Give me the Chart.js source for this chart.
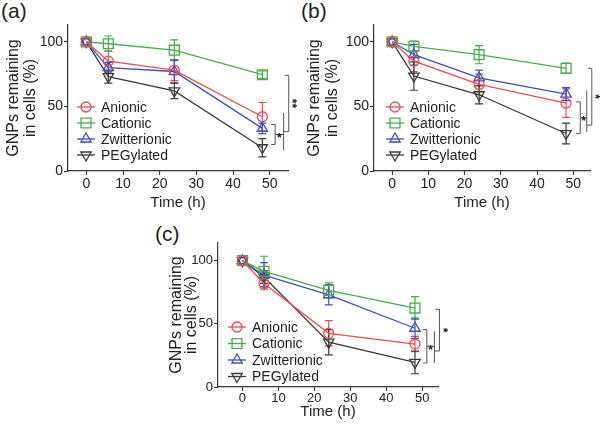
<!DOCTYPE html>
<html>
<head>
<meta charset="utf-8">
<script src="https://cdn.jsdelivr.net/npm/chart.js@4.4.1/dist/chart.umd.min.js"></script>
<style>
    body { margin: 0; background: #fff; width: 600px; height: 430px; position: relative; overflow: hidden;
           font-family: "Liberation Sans", Arial, sans-serif; }
    .panneau { position: absolute; }
    .lettre { position: absolute; font-size: 21px; line-height: 21px; color: #222; }
</style>
</head>
<body>
<div class="lettre" style="left:1px;top:0px">(a)</div>
<div class="lettre" style="left:301px;top:0px">(b)</div>
<div class="lettre" style="left:155px;top:223px">(c)</div>
<div class="panneau" style="left:0;top:0;width:300px;height:212px"><canvas id="chartA"></canvas></div>
<div class="panneau" style="left:300px;top:0;width:300px;height:212px"><canvas id="chartB"></canvas></div>
<div class="panneau" style="left:150px;top:215px;width:320px;height:215px"><canvas id="chartC"></canvas></div>

<script>
// Données
const temps = [0, 6, 24, 48];
const ticksTemps = [0, 10, 20, 30, 40, 50];
const ticksPct = [0, 50, 100];
const noms = ['Anionic', 'Cationic', 'Zwitterionic', 'PEGylated'];

// (a)
const anioniqueA = [100, 85, 78, 42];
const anioniqueErrA = [0, 8, 8, 11];
const cationiqueA = [100, 98.5, 93.5, 74.5];
const cationiqueErrA = [0, 6, 8, 3];
const zwitterA = [100, 80, 77, 33];
const zwitterErrA = [0, 4, 9, 4];
const pegA = [100, 73, 62, 18];
const pegErrA = [0, 5, 6, 7];

// (b)
const anioniqueB = [100, 85, 67, 52.5];
const anioniqueErrB = [0, 8, 8, 11];
const cationiqueB = [100, 96.5, 90, 79.5];
const cationiqueErrB = [0, 4, 7, 4];
const zwitterB = [100, 90, 72, 59.5];
const zwitterErrB = [0, 8, 6, 5];
const pegB = [100, 73.5, 59, 29];
const pegErrB = [0, 11, 7, 8];

// (c)
const anioniqueC = [100, 82, 42.5, 34];
const anioniqueErrC = [0, 5, 10, 6];
const cationiqueC = [100, 91.5, 76.5, 62.5];
const cationiqueErrC = [0, 12, 6, 9];
const zwitterC = [100, 88.5, 73, 46.5];
const zwitterErrC = [0, 10, 8, 8];
const pegC = [100, 87, 35.5, 19.5];
const pegErrC = [0, 5, 10, 9];

// Crochets de significativité : [x, yHaut, yBas]
const petitA = [51.5, 36, 20.5];
const interneA = [53.8, 45, 16];
const externeA = [55.2, 74, 30.5];
const petitB = [51.9, 53.5, 29];
const interneB = [53.7, 62.5, 30];
const externeB = [55.1, 79.5, 35.5];
const petitC = [51.3, 45.5, 19];
const interneC = [53.4, 44, 19];
const externeC = [54.8, 61.5, 28.5];

// Styles des séries
const couleurs = ['#f04b50', '#43b047', '#3c4fc6', '#3a3a3a'];
const formes = ['circle', 'rect', 'triangle', 'triangle'];
const rotations = [0, 0, 0, 180];
const rayons = [5, 7, 6, 6];
const POLICE = '"Liberation Sans", Arial, sans-serif';

// Barres d'erreur
const pluginErreurs = {
    id: 'erreurs',
    beforeDatasetsDraw(chart) {
        const ctx = chart.ctx;
        const xs = chart.scales.x, ys = chart.scales.y;
        chart.data.datasets.forEach(ds => {
            ctx.save();
            ctx.strokeStyle = ds.borderColor;
            ctx.lineWidth = 1.2;
            ds.data.forEach((v, j) => {
                const e = ds.erreurs[j];
                if (!e) return;
                const x = xs.getPixelForValue(temps[j]);
                const y1 = ys.getPixelForValue(v + e);
                const y2 = ys.getPixelForValue(v - e);
                ctx.beginPath();
                ctx.moveTo(x, y1); ctx.lineTo(x, y2);
                ctx.moveTo(x - 4, y1); ctx.lineTo(x + 4, y1);
                ctx.moveTo(x - 4, y2); ctx.lineTo(x + 4, y2);
                ctx.stroke();
            });
            ctx.restore();
        });
    }
};

function dessinerMarqueur(ctx, forme, rot, r, x, y) {
    ctx.beginPath();
    if (forme === 'circle') {
        ctx.arc(x, y, r, 0, Math.PI * 2);
    } else if (forme === 'rect') {
        const s = r * Math.SQRT1_2;
        ctx.rect(x - s, y - s, 2 * s, 2 * s);
    } else {
        let a = rot * Math.PI / 180;
        for (let k = 0; k < 3; k++) {
            const px = x + Math.sin(a) * r, py = y - Math.cos(a) * r;
            if (k === 0) ctx.moveTo(px, py); else ctx.lineTo(px, py);
            a += 2 * Math.PI / 3;
        }
        ctx.closePath();
    }
    ctx.stroke();
}

// Légende dans la zone du graphique
const pluginLegende = {
    id: 'legende',
    afterDraw(chart, args, opts) {
        const ctx = chart.ctx;
        const area = chart.chartArea;
        chart.data.datasets.forEach((ds, i) => {
            const y = area.bottom - opts.bas + i * opts.pas;
            const x = area.left + opts.gauche;
            ctx.save();
            ctx.strokeStyle = ds.borderColor;
            ctx.lineWidth = 1.3;
            ctx.beginPath();
            ctx.moveTo(x - 9, y); ctx.lineTo(x + 9, y);
            ctx.stroke();
            dessinerMarqueur(ctx, formes[i], rotations[i], rayons[i], x, y);
            ctx.fillStyle = '#222';
            ctx.font = '14px ' + POLICE;
            ctx.textBaseline = 'middle';
            ctx.fillText(ds.label, x + 15, y + 1);
            ctx.restore();
        });
    }
};

// Crochets et étoiles
const pluginCrochets = {
    id: 'crochets',
    afterDraw(chart, args, opts) {
        const ctx = chart.ctx;
        const xs = chart.scales.x, ys = chart.scales.y;
        const px = v => xs.getPixelForValue(v), py = v => ys.getPixelForValue(v);
        const p = opts.petit, n = opts.interne, e = opts.externe;
        ctx.save();
        ctx.strokeStyle = '#555';
        ctx.lineWidth = 1;
        ctx.beginPath();
        // petit crochet
        ctx.moveTo(px(p[0]) - 4, py(p[1])); ctx.lineTo(px(p[0]), py(p[1]));
        ctx.lineTo(px(p[0]), py(p[2])); ctx.lineTo(px(p[0]) - 4, py(p[2]));
        const yMil = (py(p[1]) + py(p[2])) / 2;
        ctx.moveTo(px(p[0]), yMil); ctx.lineTo(px(n[0]), yMil);
        // trait interne
        ctx.moveTo(px(n[0]), py(n[1])); ctx.lineTo(px(n[0]), py(n[2]));
        // grand crochet
        ctx.moveTo(px(e[0]) - 4, py(e[1])); ctx.lineTo(px(e[0]), py(e[1]));
        ctx.lineTo(px(e[0]), py(e[2])); ctx.lineTo(px(n[0]), py(e[2]));
        ctx.stroke();
        ctx.fillStyle = '#222';
        ctx.font = 'bold 12px ' + POLICE;
        ctx.textAlign = 'center';
        ctx.textBaseline = 'middle';
        ctx.fillText('*', (px(p[0]) + px(n[0])) / 2, yMil + 4);
        ctx.translate(px(e[0]) + 6, (py(e[1]) + py(e[2])) / 2);
        ctx.rotate(Math.PI / 2);
        ctx.fillText(opts.etoiles, 0, 3);
        ctx.restore();
    }
};

function creerGraphique(id, series, erreurs, reglages) {
    const datasets = series.map((s, i) => ({
        label: noms[i],
        data: s,
        erreurs: erreurs[i],
        borderColor: couleurs[i],
        backgroundColor: 'rgba(255,255,255,0)',
        borderWidth: 1.3,
        pointStyle: formes[i],
        pointRotation: rotations[i],
        pointRadius: rayons[i],
        pointBorderWidth: 1.3,
        pointBorderColor: couleurs[i],
        pointBackgroundColor: 'rgba(255,255,255,0)',
        tension: 0
    }));

    return new Chart(document.getElementById(id), {
        type: 'line',
        data: { labels: temps, datasets: datasets },
        plugins: [pluginErreurs, pluginLegende, pluginCrochets],
        options: {
            responsive: true,
            maintainAspectRatio: false,
            animation: false,
            events: [],
            layout: { padding: { top: reglages.haut, right: reglages.droite, left: 0, bottom: 0 } },
            plugins: {
                legend: { display: false },
                tooltip: { enabled: false },
                legende: reglages.legende,
                crochets: reglages.crochets
            },
            scales: {
                x: {
                    type: 'linear',
                    min: reglages.xMin,
                    max: reglages.xMax,
                    afterBuildTicks: sc => { sc.ticks = ticksTemps.map(v => ({ value: v })); },
                    afterFit: sc => { sc.height = reglages.hauteurX; },
                    border: { display: true, color: '#333', width: 1.2 },
                    grid: { display: true, drawOnChartArea: false, drawTicks: true, tickLength: 4, color: '#333', tickWidth: 1.2 },
                    ticks: { font: { size: reglages.policeTicks, family: POLICE }, color: '#222', padding: reglages.padTickX, maxRotation: 0 },
                    title: { display: true, text: 'Time (h)', color: '#222',
                             font: { size: 15, family: POLICE }, padding: { top: 0, bottom: reglages.padTitreX } }
                },
                y: {
                    min: 0,
                    max: reglages.yMax,
                    afterBuildTicks: sc => { sc.ticks = ticksPct.map(v => ({ value: v })); },
                    afterFit: sc => { sc.width = reglages.largeurY; },
                    border: { display: true, color: '#333', width: 1.2 },
                    grid: { display: true, drawOnChartArea: false, drawTicks: true, tickLength: 4, color: '#333', tickWidth: 1.2 },
                    ticks: { font: { size: reglages.policeTicks, family: POLICE }, color: '#222', padding: 1 },
                    title: { display: true, text: ['GNPs remaining', 'in cells (%)'], color: '#222',
                             font: { size: 16, family: POLICE, lineHeight: reglages.interligneY },
                             padding: { top: reglages.padTitreY, bottom: 0 } }
                }
            }
        }
    });
}

creerGraphique('chartA',
    [anioniqueA, cationiqueA, zwitterA, pegA],
    [anioniqueErrA, cationiqueErrA, zwitterErrA, pegErrA],
    { haut: 25, droite: 12, largeurY: 68, hauteurX: 41, xMin: -5, xMax: 55, yMax: 113,
      policeTicks: 14, padTickX: 1, padTitreX: 0, padTitreY: 5, interligneY: 1.05,
      legende: { gauche: 18, bas: 64, pas: 16 },
      crochets: { petit: petitA, interne: interneA, externe: externeA, etoiles: '**' } });

creerGraphique('chartB',
    [anioniqueB, cationiqueB, zwitterB, pegB],
    [anioniqueErrB, cationiqueErrB, zwitterErrB, pegErrB],
    { haut: 25, droite: 10, largeurY: 74, hauteurX: 41, xMin: -5, xMax: 54.6, yMax: 113,
      policeTicks: 14, padTickX: 1, padTitreX: 0, padTitreY: 5, interligneY: 1.15,
      legende: { gauche: 21, bas: 64, pas: 16 },
      crochets: { petit: petitB, interne: interneB, externe: externeB, etoiles: '*' } });

creerGraphique('chartC',
    [anioniqueC, cationiqueC, zwitterC, pegC],
    [anioniqueErrC, cationiqueErrC, zwitterErrC, pegErrC],
    { haut: 28, droite: 32, largeurY: 68, hauteurX: 43, xMin: -6.8, xMax: 54.4, yMax: 114,
      policeTicks: 13, padTickX: 0, padTitreX: 9, padTitreY: 19, interligneY: 0.94,
      legende: { gauche: 19, bas: 60, pas: 16.5 },
      crochets: { petit: petitC, interne: interneC, externe: externeC, etoiles: '*' } });
</script>
</body>
</html>
